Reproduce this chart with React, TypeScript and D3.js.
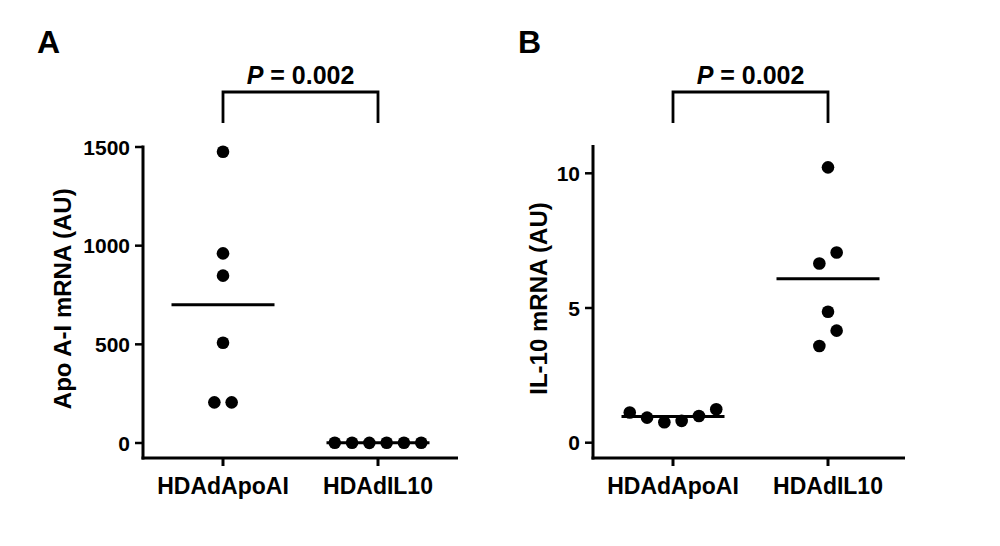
import * as d3 from "d3";
import React from "react";

const groups = ["HDAdApoAI", "HDAdIL10"];

// panel A: Apo A-I mRNA (AU)
const apoA_ApoAI = [1476, 961, 848, 508, 206, 206];
const apoA_IL10 = [0.9, 1.1, 0.8, 1.0, 1.2, 1.0];
const apoTicks = [0, 500, 1000, 1500];

// panel B: IL-10 mRNA (AU)
const il10_ApoAI = [1.12, 0.93, 0.76, 0.81, 0.99, 1.24];
const il10_IL10 = [10.22, 6.65, 7.06, 4.86, 3.59, 4.16];
const il10Ticks = [0, 5, 10];

const pLabels = ["0.002", "0.002"];

const FONT = "'Liberation Sans', Arial, Helvetica, sans-serif";
const R = 6.3;
const SPREAD = 17.3;
const HALF_MEAN = 51.5;

// simple column-scatter layout: points closer than ~16px vertically get spread sideways
const spreadPoints = (vals: number[], y: (v: number) => number) => {
  const idx = vals.map((v, i) => i).sort((a, b) => y(vals[b]) - y(vals[a]));
  const clusters: number[][] = [];
  idx.forEach((i) => {
    const last = clusters[clusters.length - 1];
    if (last && Math.abs(y(vals[last[last.length - 1]]) - y(vals[i])) < 16) last.push(i);
    else clusters.push([i]);
  });
  const off = vals.map(() => 0);
  clusters.forEach((c) => {
    const ordered = [...c].sort((a, b) => a - b);
    ordered.forEach((i, k) => {
      off[i] = (k - (ordered.length - 1) / 2) * SPREAD;
    });
  });
  return off;
};

type PanelProps = {
  letter: string;
  letterX: number;
  x0: number;
  x1: number;
  y: d3.ScaleLinear<number, number>;
  yTop: number;
  ticks: number[];
  series: number[][];
  title: string;
  titleX: number;
  p: string;
};

const BOTTOM = 458;

const Panel = ({ letter, letterX, x0, x1, y, yTop, ticks, series, title, titleX, p }: PanelProps) => {
  const x = d3.scalePoint<string>().domain(groups).range([x0 + 80, x0 + 235]);
  const cx = (g: string) => x(g)!;
  const mid = (cx(groups[0]) + cx(groups[1])) / 2;

  return (
    <g>
      <text x={letterX} y={53} fontSize={32} fontWeight="bold" fontFamily={FONT}>
        {letter}
      </text>

      {/* significance bracket */}
      <path
        d={`M${cx(groups[0])},123V92H${cx(groups[1])}V123`}
        fill="none"
        stroke="#000"
        strokeWidth={2.8}
      />
      <text x={mid} y={84} textAnchor="middle" fontSize={25} fontWeight="bold" fontFamily={FONT}>
        <tspan fontStyle="italic">P</tspan> = {p}
      </text>

      {/* y axis */}
      <line x1={x0} x2={x0} y1={yTop} y2={BOTTOM + 1.5} stroke="#000" strokeWidth={3} />
      {ticks.map((t) => (
        <g key={t}>
          <line x1={x0 - 8} x2={x0} y1={y(t)} y2={y(t)} stroke="#000" strokeWidth={2.5} />
          <text
            x={x0 - 13}
            y={y(t)}
            dy="0.36em"
            textAnchor="end"
            fontSize={21}
            fontWeight="bold"
            fontFamily={FONT}
          >
            {t}
          </text>
        </g>
      ))}
      <text
        transform={`translate(${titleX},${(yTop + BOTTOM) / 2 - 3}) rotate(-90)`}
        textAnchor="middle"
        fontSize={24}
        fontWeight="bold"
        fontFamily={FONT}
      >
        {title}
      </text>

      {/* x axis */}
      <line x1={x0 - 1.5} x2={x1} y1={BOTTOM} y2={BOTTOM} stroke="#000" strokeWidth={3} />
      {groups.map((g) => (
        <g key={g}>
          <line x1={cx(g)} x2={cx(g)} y1={BOTTOM} y2={BOTTOM + 8} stroke="#000" strokeWidth={3} />
          <text
            x={cx(g)}
            y={494}
            textAnchor="middle"
            fontSize={23}
            fontWeight="bold"
            fontFamily={FONT}
          >
            {g}
          </text>
        </g>
      ))}

      {/* points + means */}
      {series.map((vals, gi) => {
        const g = groups[gi];
        const off = spreadPoints(vals, y);
        const m = d3.mean(vals)!;
        return (
          <g key={g}>
            {vals.map((v, i) => (
              <circle key={i} cx={cx(g) + off[i]} cy={y(v)} r={R} fill="#000" />
            ))}
            <line
              x1={cx(g) - HALF_MEAN}
              x2={cx(g) + HALF_MEAN}
              y1={y(m)}
              y2={y(m)}
              stroke="#000"
              strokeWidth={3}
            />
          </g>
        );
      })}
    </g>
  );
};

export default function App() {
  const yA = d3.scaleLinear().domain([0, 1500]).range([443, 147]);
  const yB = d3.scaleLinear().domain([0, 10]).range([442.7, 173.3]);

  return (
    <svg
      width={1000}
      height={546}
      style={{ position: "absolute", left: 0, top: 0, background: "#fff" }}
    >
      <rect width={1000} height={546} fill="#fff" />
      <Panel
        letter="A"
        letterX={37}
        x0={143}
        x1={458}
        y={yA}
        yTop={145.5}
        ticks={apoTicks}
        series={[apoA_ApoAI, apoA_IL10]}
        title="Apo A-I mRNA (AU)"
        titleX={71}
        p={pLabels[0]}
      />
      <Panel
        letter="B"
        letterX={518}
        x0={593}
        x1={905}
        y={yB}
        yTop={145}
        ticks={il10Ticks}
        series={[il10_ApoAI, il10_IL10]}
        title="IL-10 mRNA (AU)"
        titleX={547}
        p={pLabels[1]}
      />
    </svg>
  );
}
